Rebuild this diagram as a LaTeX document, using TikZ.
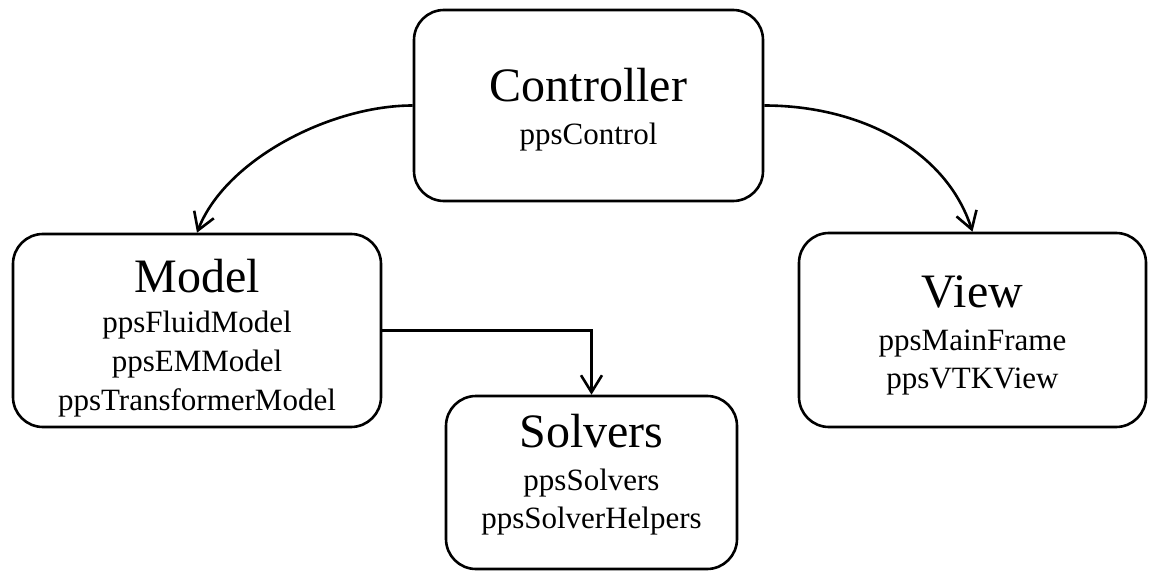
\documentclass[tikz,border=0pt]{standalone}
\usepackage{fontspec}
\setmainfont{Liberation Serif}
\usetikzlibrary{arrows.meta}

\tikzset{
  module/.style={draw=black, line width=2.6pt, rounded corners=30pt, fill=white, inner sep=0pt},
  title/.style={anchor=base, inner sep=0pt, font=\fontsize{48}{52}\selectfont},
  member/.style={anchor=base, inner sep=0pt, font=\fontsize{31}{38}\selectfont},
  conn/.style={draw=black, line width=2.6pt, -{Straight Barb[length=17pt,width=21pt,line width=2.6pt]}},
}

\begin{document}
\begin{tikzpicture}[x=1pt, y=-1pt]
  \useasboundingbox (0,0) rectangle (1149,572);

  % module boxes
  \node[module, minimum width=349pt, minimum height=191pt] (ctrl) at (588.5,105.5) {};
  \node[module, minimum width=368pt, minimum height=193pt] (model) at (197,330.5) {};
  \node[module, minimum width=347pt, minimum height=194pt] (view) at (972.5,330) {};
  \node[module, minimum width=291pt, minimum height=173pt] (solv) at (591.5,482.5) {};

  % Controller
  \node[title]  (ctrlT) at (588.5,102) {Controller};
  \node[member] (ctrlA) at (588.5,145) {ppsControl};

  % Model
  \node[title]  (modelT) at (197,292) {Model};
  \node[member] (modelA) at (197,332) {ppsFluidModel};
  \node[member] (modelB) at (197,371) {ppsEMModel};
  \node[member] (modelC) at (197,410) {ppsTransformerModel};

  % View
  \node[title]  (viewT) at (972.5,307) {View};
  \node[member] (viewA) at (972.5,350) {ppsMainFrame};
  \node[member] (viewB) at (972.5,388) {ppsVTKView};

  % Solvers
  \node[title]  (solvT) at (591.5,447) {Solvers};
  \node[member] (solvA) at (591.5,490) {ppsSolvers};
  \node[member] (solvB) at (591.5,528) {ppsSolverHelpers};

  % connectors
  \draw[conn] (ctrl.west) .. controls (330,105.5) and (225,160) .. (model.north);
  \draw[conn] (ctrl.east) .. controls (860,105.5) and (946,150) .. (view.north);
  \draw[conn] (model.east) -| (solv.north);
\end{tikzpicture}
\end{document}
